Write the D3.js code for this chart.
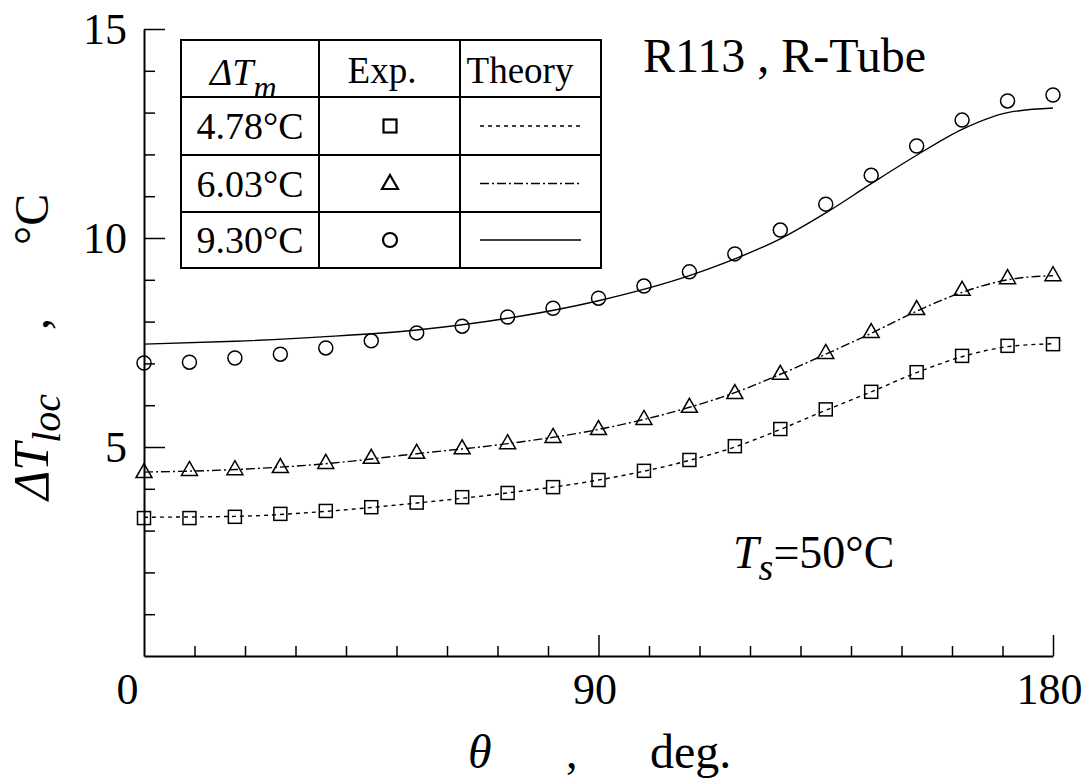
<!DOCTYPE html>
<html>
<head>
<meta charset="utf-8">
<script src="https://cdn.jsdelivr.net/npm/d3@7"></script>
<style>
  body { margin: 0; background: #fff; }
</style>
</head>
<body>
<svg id="chart" width="1091" height="779"></svg>
<script>
// measured angles (every 9 deg)
const thetaExp = [0, 9, 18, 27, 36, 45, 54, 63, 72, 81, 90, 99, 108, 117, 126, 135, 144, 153, 162, 171, 180]
const exp478 = [3.30, 3.30, 3.33, 3.40, 3.47, 3.56, 3.67, 3.80, 3.90, 4.04, 4.21, 4.43, 4.69, 5.02, 5.43, 5.90, 6.32, 6.79, 7.18, 7.42, 7.46]
const exp603 = [4.40, 4.45, 4.47, 4.52, 4.62, 4.74, 4.86, 4.97, 5.09, 5.24, 5.43, 5.67, 5.96, 6.29, 6.75, 7.25, 7.75, 8.30, 8.76, 9.04, 9.11]
const exp930 = [7.01, 7.03, 7.13, 7.22, 7.37, 7.54, 7.73, 7.89, 8.11, 8.32, 8.56, 8.85, 9.19, 9.62, 10.19, 10.81, 11.50, 12.20, 12.82, 13.28, 13.42]

// theory curves
const thetaTh = [0, 18, 36, 54, 72, 90, 108, 117, 126, 135, 144, 153, 162, 171, 180]
const th478 = [3.32, 3.34, 3.46, 3.66, 3.90, 4.21, 4.68, 5.00, 5.42, 5.88, 6.32, 6.78, 7.16, 7.40, 7.47]
const th603 = [4.40, 4.46, 4.60, 4.84, 5.08, 5.42, 5.95, 6.30, 6.74, 7.22, 7.72, 8.25, 8.70, 9.00, 9.10]
const th930 = [7.46, 7.53, 7.64, 7.80, 8.08, 8.50, 9.10, 9.50, 9.98, 10.60, 11.30, 11.98, 12.60, 13.00, 13.11]

const legendLabels = ['4.78°C', '6.03°C', '9.30°C']
const xMajor = [0, 90, 180]
const xMinor = [10, 20, 30, 40, 50, 60, 70, 80, 100, 110, 120, 130, 140, 150, 160, 170]
const yMajor = [5, 10, 15]
const yMinor = [1, 2, 3, 4, 6, 7, 8, 9, 11, 12, 13, 14]

const FONT = 'Times New Roman, Liberation Serif, Times, serif'
const MARGINS = { top: 29, right: 38, bottom: 123, left: 144 }

const svg = d3.select('#chart')
const width = +svg.attr('width') - MARGINS.left - MARGINS.right
const height = +svg.attr('height') - MARGINS.top - MARGINS.bottom

const scaleX = d3.scaleLinear().domain([0, 180]).range([0, width])
const scaleY = d3.scaleLinear().domain([0, 15]).range([height, 0])

const g = svg.append('g')
  .attr('transform', 'translate(' + MARGINS.left + ',' + MARGINS.top + ')')

// axes
g.append('g')
  .attr('class', 'axis axis--y-minor')
  .call(d3.axisLeft(scaleY).tickValues(yMinor).tickSize(-11).tickFormat(''))
  .call(s => s.select('.domain').remove())

g.append('g')
  .attr('class', 'axis axis--y')
  .call(d3.axisLeft(scaleY).tickValues(yMajor).tickSize(-21).tickSizeOuter(0).tickPadding(17))

g.append('g')
  .attr('class', 'axis axis--x-minor')
  .attr('transform', 'translate(0,' + height + ')')
  .call(d3.axisBottom(scaleX).tickValues(xMinor).tickSize(-10).tickFormat(''))
  .call(s => s.select('.domain').remove())

g.append('g')
  .attr('class', 'axis axis--x')
  .attr('transform', 'translate(0,' + height + ')')
  .call(d3.axisBottom(scaleX).tickValues(xMajor).tickSize(-21).tickSizeOuter(0).tickPadding(17))
  .call(s => s.selectAll('.tick').filter(d => d === 0).select('text').attr('x', -17))
  .call(s => s.selectAll('.tick').filter(d => d === 0).select('line').remove())
  .call(s => s.selectAll('.tick').filter(d => d > 0).select('text').attr('x', -4))

g.selectAll('.axis .domain').attr('stroke', '#000').attr('stroke-width', 2)
g.selectAll('.axis line').attr('stroke', '#000').attr('stroke-width', 1.5)
g.selectAll('.axis text')
  .attr('fill', '#000')
  .style('font-size', '44px')

// theory lines
const line = d3.line()
  .x(d => scaleX(d[0]))
  .y(d => scaleY(d[1]))
  .curve(d3.curveMonotoneX)

const series = [
  { th: th478, exp: exp478, dash: '4,4', marker: 'square' },
  { th: th603, exp: exp603, dash: '9,3,2,3', marker: 'triangle' },
  { th: th930, exp: exp930, dash: null, marker: 'circle' }
]

series.forEach(s => {
  g.append('path')
    .datum(thetaTh.map((t, i) => [t, s.th[i]]))
    .attr('d', line)
    .attr('fill', 'none')
    .attr('stroke', '#000')
    .attr('stroke-width', 1.4)
    .attr('stroke-dasharray', s.dash)
})

function drawMarker(sel, type, x, y) {
  if (type === 'square') {
    sel.append('rect')
      .attr('x', x - 6.5).attr('y', y - 6.5)
      .attr('width', 13).attr('height', 13)
  } else if (type === 'triangle') {
    sel.append('path')
      .attr('d', 'M' + x + ',' + (y - 8.5) + 'L' + (x + 8) + ',' + (y + 5.5) + 'L' + (x - 8) + ',' + (y + 5.5) + 'Z')
  } else {
    sel.append('circle')
      .attr('cx', x).attr('cy', y).attr('r', 7)
  }
}

const marks = g.append('g')
  .attr('fill', 'none')
  .attr('stroke', '#000')
  .attr('stroke-width', 1.5)

series.forEach(s => {
  thetaExp.forEach((t, i) => drawMarker(marks, s.marker, scaleX(t), scaleY(s.exp[i])))
})

// legend table
const leg = svg.append('g').attr('transform', 'translate(181,40)')
const colX = [0, 138, 279, 420]
const rowY = [0, 57, 115, 172, 228]

leg.append('rect')
  .attr('width', colX[3]).attr('height', rowY[4])
  .attr('fill', '#fff').attr('stroke', '#000').attr('stroke-width', 2)

colX.slice(1, 3).forEach(x => {
  leg.append('line').attr('x1', x).attr('x2', x).attr('y1', 0).attr('y2', rowY[4])
    .attr('stroke', '#000').attr('stroke-width', 2)
})
rowY.slice(1, 4).forEach(y => {
  leg.append('line').attr('x1', 0).attr('x2', colX[3]).attr('y1', y).attr('y2', y)
    .attr('stroke', '#000').attr('stroke-width', 2)
})

const head = leg.append('text')
  .attr('x', 29).attr('y', 45)
  .style('font-size', '38px')
head.append('tspan').style('font-style', 'italic').text('ΔT')
head.append('tspan').style('font-style', 'italic').style('font-size', '32px').attr('dy', 13).text('m')

leg.append('text').attr('x', 201).attr('y', 43)
  .attr('text-anchor', 'middle').style('font-size', '37px').text('Exp.')
leg.append('text').attr('x', 339).attr('y', 43)
  .attr('text-anchor', 'middle').style('font-size', '37px').text('Theory')

legendLabels.forEach((lab, i) => {
  const cy = (rowY[i + 1] + rowY[i + 2]) / 2
  leg.append('text').attr('x', (colX[0] + colX[1]) / 2).attr('y', cy + 13)
    .attr('text-anchor', 'middle').style('font-size', '38px').text(lab)
  const m = leg.append('g').attr('fill', 'none').attr('stroke', '#000').attr('stroke-width', 2.2)
  drawMarker(m, series[i].marker, 209, cy)
  leg.append('line')
    .attr('x1', colX[2] + 20).attr('x2', colX[3] - 20)
    .attr('y1', cy).attr('y2', cy)
    .attr('stroke', '#000').attr('stroke-width', 1.3)
    .attr('stroke-dasharray', series[i].dash)
})

// annotations
svg.append('text').attr('x', 643).attr('y', 72)
  .style('font-size', '48px').text('R113 , R-Tube')

const ts = svg.append('text').attr('x', 733).attr('y', 568).style('font-size', '46px')
ts.append('tspan').style('font-style', 'italic').text('T')
ts.append('tspan').style('font-style', 'italic').style('font-size', '38px').attr('dy', 12).text('s')
ts.append('tspan').attr('dy', -12).text('=50°C')

// axis titles
svg.append('text').attr('x', 468).attr('y', 768)
  .style('font-size', '48px').style('font-style', 'italic').text('θ')
svg.append('text').attr('x', 566).attr('y', 768)
  .style('font-size', '46px').text(',')
svg.append('text').attr('x', 650).attr('y', 768)
  .style('font-size', '48px').text('deg.')

const yt = svg.append('g').attr('transform', 'translate(48,0) rotate(-90)')
const yt1 = yt.append('text').attr('x', -500).attr('y', 0).style('font-size', '50px')
yt1.append('tspan').style('font-style', 'italic').text('ΔT')
yt1.append('tspan').style('font-style', 'italic').style('font-size', '40px').attr('dy', 12).text('loc')
yt.append('text').attr('x', -330).attr('y', 0).style('font-size', '48px').text(',')
yt.append('text').attr('x', -245).attr('y', 0).style('font-size', '48px').text('°C')

// serif everywhere
svg.selectAll('g.axis').attr('font-family', null)
svg.selectAll('text').style('font-family', FONT)
</script>
</body>
</html>
